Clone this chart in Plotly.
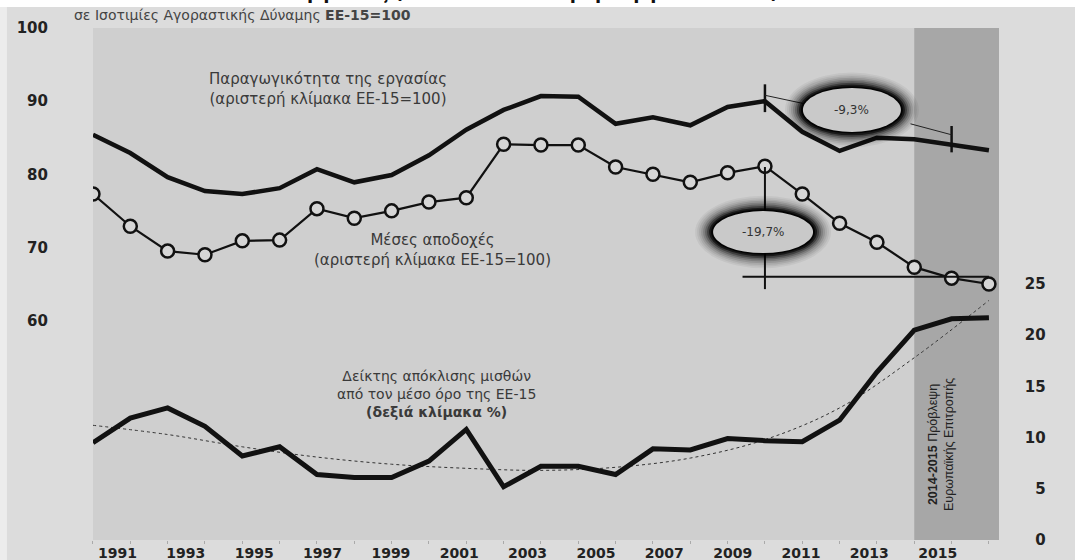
import plotly.graph_objects as go

# ---------------- data ----------------
years = list(range(1991, 2016))
productivity = [85.4, 82.9, 79.6, 77.7, 77.3, 78.1, 80.7, 78.9, 79.9, 82.6, 86.1, 88.8, 90.7,
                90.6, 86.9, 87.8, 86.7, 89.2, 90.0, 85.8, 83.2, 85.0, 84.8, 84.0, 83.3]
wages = [77.3, 72.9, 69.5, 69.0, 70.9, 71.0, 75.3, 74.0, 75.0, 76.2, 76.8, 84.1, 84.0,
         84.0, 81.0, 80.0, 78.9, 80.2, 81.1, 77.3, 73.3, 70.7, 67.3, 65.8, 65.0]
gap_index = [9.5, 11.9, 12.9, 11.1, 8.2, 9.1, 6.4, 6.1, 6.1, 7.7, 10.8, 5.2, 7.2,
             7.2, 6.4, 8.9, 8.8, 9.9, 9.7, 9.6, 11.7, 16.4, 20.5, 21.6, 21.7]
trend_years = [1991, 1993, 1995, 1997, 1999, 2001, 2003, 2005, 2007, 2009, 2011, 2013, 2015]
trend_values = [11.2, 10.3, 9.1, 8.1, 7.4, 7.0, 6.8, 7.1, 8.0, 9.8, 12.9, 17.8, 23.4]

x_tick_labels = [str(y) for y in range(1991, 2016, 2)]
x_tick_vals = list(range(1991, 2016, 2))
left_ticks = [60, 70, 80, 90, 100]
right_ticks = [0, 5, 10, 15, 20, 25]

FONT = "DejaVu Sans"
TXT = "#3a3a3a"

fig = go.Figure()

fig.add_trace(go.Scatter(x=years, y=productivity, mode="lines",
                         line=dict(color="#111111", width=4.5), showlegend=False,
                         hoverinfo="skip"))
fig.add_trace(go.Scatter(x=years, y=wages, mode="lines+markers",
                         line=dict(color="#111111", width=2.2),
                         marker=dict(symbol="circle", size=13, color="#d6d6d6",
                                     line=dict(color="#111111", width=2.5)),
                         showlegend=False, hoverinfo="skip"))
fig.add_trace(go.Scatter(x=trend_years, y=trend_values, mode="lines", yaxis="y2",
                         line=dict(color="#333333", width=1, dash="dot", shape="spline"),
                         showlegend=False, hoverinfo="skip"))
fig.add_trace(go.Scatter(x=years, y=gap_index, mode="lines", yaxis="y2",
                         line=dict(color="#111111", width=5), showlegend=False,
                         hoverinfo="skip"))
# carrier trace for the year-label axis
fig.add_trace(go.Scatter(x=[x_tick_vals[0], x_tick_vals[-1]], y=[50, 50], xaxis="x2",
                         mode="markers", marker=dict(opacity=0), showlegend=False,
                         hoverinfo="skip"))

shapes = []
# plot background & forecast shading
shapes.append(dict(type="rect", xref="x domain", yref="y domain", x0=0, x1=1, y0=0, y1=1,
                   fillcolor="#cfcfcf", line=dict(width=0), layer="below"))
shapes.append(dict(type="rect", xref="x", yref="y domain", x0=2013, x1=2015.27, y0=0, y1=1,
                   fillcolor="#a7a7a7", line=dict(width=0), layer="below"))
# white strip at very top, pale strip at left edge
shapes.append(dict(type="rect", xref="paper", yref="paper", x0=-0.1, x1=1.1,
                   y0=1.041, y1=1.2, fillcolor="white", line=dict(width=0), layer="below"))
shapes.append(dict(type="rect", xref="paper", yref="paper", x0=-0.1, x1=-0.0126,
                   y0=-0.2, y1=1.041, fillcolor="#ececec", line=dict(width=0), layer="below"))

# -9.3% marker lines
shapes += [
    dict(type="line", xref="x", yref="y", x0=2009, x1=2009, y0=92.3, y1=88.5,
         line=dict(color="#111", width=2.5)),
    dict(type="line", xref="x", yref="y", x0=2014, x1=2014, y0=86.6, y1=83.0,
         line=dict(color="#111", width=2.5)),
    dict(type="line", xref="x", yref="y", x0=2009, x1=2010.1, y0=90.8, y1=89.6,
         line=dict(color="#222", width=1)),
    dict(type="line", xref="x", yref="y", x0=2012.9, x1=2014, y0=86.9, y1=85.4,
         line=dict(color="#222", width=1)),
    # -19.7% marker lines
    dict(type="line", xref="x", yref="y", x0=2009, x1=2009, y0=81.0, y1=64.3,
         line=dict(color="#111", width=2)),
    dict(type="line", xref="x", yref="y", x0=2008.4, x1=2015, y0=66.0, y1=66.0,
         line=dict(color="#111", width=2)),
]


def blurred_ellipse(xc, yc, rx, ry):
    out = []
    steps = [(18, 0.05), (16, 0.06), (14, 0.08), (12, 0.11), (10, 0.15), (8, 0.22),
             (6, 0.35), (4, 0.6), (2, 0.85)]
    for d, a in steps:
        out.append(dict(type="circle", xref="x", yref="y", xsizemode="pixel",
                        ysizemode="pixel", xanchor=xc, yanchor=yc,
                        x0=-(rx + d), x1=rx + d, y0=-(ry + d * 0.85), y1=ry + d * 0.85,
                        fillcolor=f"rgba(0,0,0,{a})", line=dict(width=0)))
    out.append(dict(type="circle", xref="x", yref="y", xsizemode="pixel",
                    ysizemode="pixel", xanchor=xc, yanchor=yc,
                    x0=-rx, x1=rx, y0=-ry, y1=ry,
                    fillcolor="#c9c9c9", line=dict(width=0)))
    return out


shapes += blurred_ellipse(2011.33, 88.8, 49, 22)
shapes += blurred_ellipse(2008.95, 72.1, 50, 21)

annotations = [
    dict(x=2011.33, y=88.8, xref="x", yref="y", text="-9,3%", showarrow=False,
         font=dict(family=FONT, size=12, color="#333")),
    dict(x=2008.95, y=72.1, xref="x", yref="y", text="-19,7%", showarrow=False,
         font=dict(family=FONT, size=12, color="#333")),
    dict(x=1997.3, y=91.6, xref="x", yref="y",
         text="Παραγωγικότητα της εργασίας<br>(αριστερή κλίμακα ΕΕ-15=100)",
         showarrow=False, font=dict(family=FONT, size=15, color=TXT)),
    dict(x=2000.1, y=69.6, xref="x", yref="y",
         text="Μέσες αποδοχές<br>(αριστερή κλίμακα ΕΕ-15=100)",
         showarrow=False, font=dict(family=FONT, size=15, color=TXT)),
    dict(x=2000.2, y=50.0, xref="x", yref="y",
         text="Δείκτης απόκλισης μισθών<br>από τον μέσο όρο της ΕΕ-15<br><b>(δεξιά κλίμακα %)</b>",
         showarrow=False, font=dict(family=FONT, size=14, color=TXT)),
    dict(x=2013.72, y=43.0, xref="x", yref="y", textangle=-90,
         text="<b>2014-2015</b> Πρόβλεψη<br>Ευρωπαϊκής Επιτροπής",
         showarrow=False, font=dict(family="Liberation Sans", size=12.5, color="#222")),
    dict(x=0.0502, y=1.0254, xref="paper", yref="paper", xanchor="left", yanchor="middle",
         text="σε Ισοτιμίες Αγοραστικής Δύναμης <b>ΕΕ-15=100</b>", showarrow=False,
         font=dict(family=FONT, size=14, color="#444")),
    dict(x=0.5, y=1.07, xref="paper", yref="paper", xanchor="center", yanchor="middle",
         text="<b>εργασίας (1991-2013 και πρόβλεψη 2014-2015)</b>", showarrow=False,
         font=dict(family=FONT, size=18, color="#111")),
]

TICKFONT = dict(family=FONT, size=15, color="#222", weight="bold")

fig.update_layout(
    width=1075, height=560,
    margin=dict(l=20, r=20, t=28, b=20, autoexpand=False),
    paper_bgcolor="#dcdcdc", plot_bgcolor="#dcdcdc",
    font=dict(family=FONT),
    showlegend=False,
    shapes=shapes,
    annotations=annotations,
    xaxis=dict(domain=[0.0705, 0.9459], range=[1991, 2015.27], showgrid=False,
               zeroline=False, showline=False, showticklabels=False, automargin=False,
               ticks="outside", ticklen=3, tickcolor="#aaaaaa", dtick=1, tick0=1991),
    xaxis2=dict(overlaying="x", anchor="y", domain=[0, 1], range=[1990.283, 2016.794],
                tickvals=x_tick_vals, ticktext=x_tick_labels, ticks="", showgrid=False,
                zeroline=False, showline=False, ticklabelstandoff=3, automargin=False,
                tickfont=dict(family=FONT, size=14, color="#222", weight="bold")),
    yaxis=dict(domain=[0, 1], range=[30, 100], anchor="free", position=0.027,
               side="left", tickvals=left_ticks, ticktext=[str(v) for v in left_ticks],
               showgrid=False, zeroline=False, showline=False, ticks="", automargin=False,
               tickfont=TICKFONT),
    yaxis2=dict(overlaying="y", range=[0, 50], anchor="free", position=0.991,
                side="left", tickvals=right_ticks, ticktext=[str(v) for v in right_ticks],
                showgrid=False, zeroline=False, showline=False, ticks="", automargin=False,
                tickfont=TICKFONT),
)

fig.write_html("out.html", config={"displayModeBar": False},
               post_script="document.body.style.margin='0px';")
